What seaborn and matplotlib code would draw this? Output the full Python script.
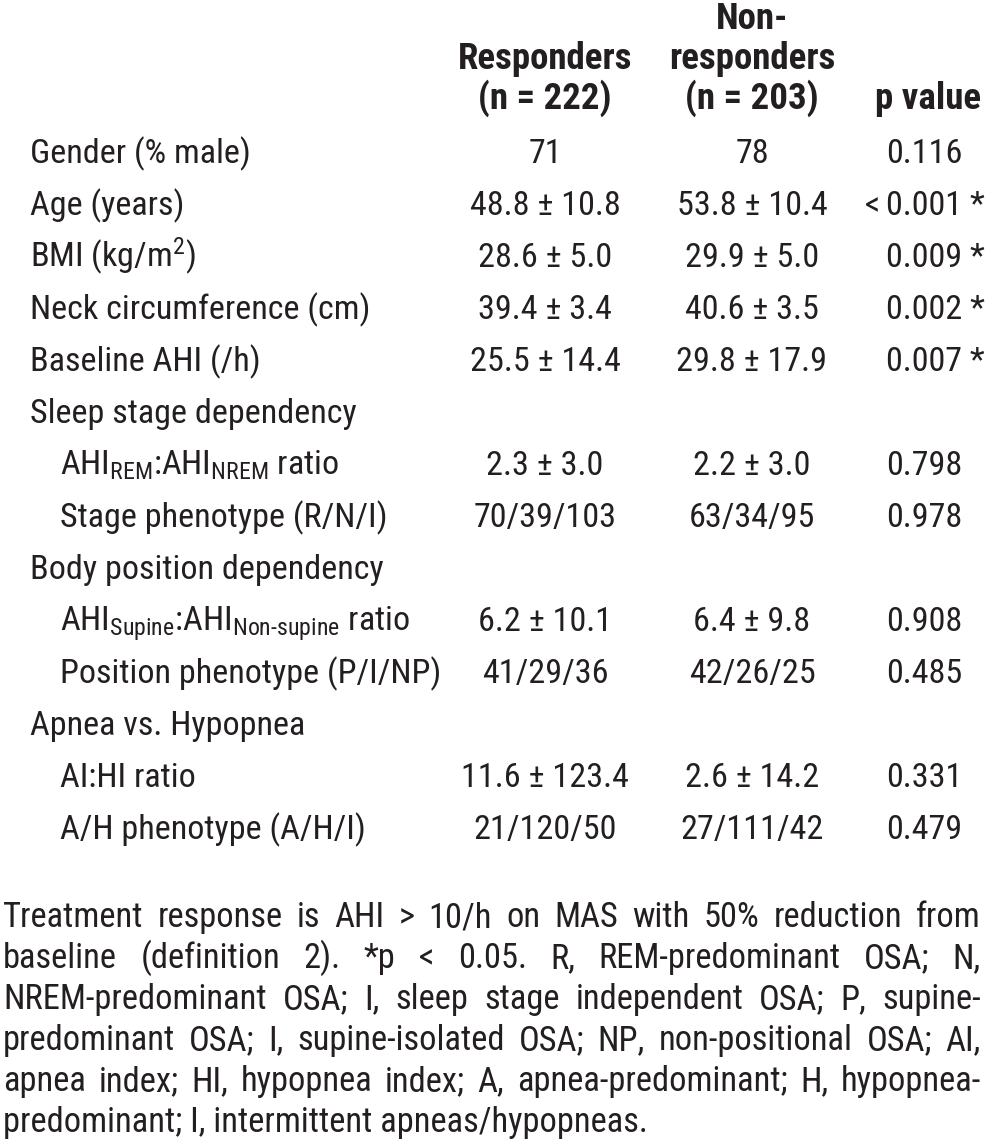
import matplotlib
matplotlib.use("Agg")
import matplotlib.pyplot as plt
from matplotlib import font_manager as fm
import seaborn as sns

# ---------------- data ----------------
header_resp = ["Responders", "(n = 222)"]
header_nonresp = ["Non-", "responders", "(n = 203)"]
header_p = "p value"

row_labels = [
    "Gender (% male)",
    "Age (years)",
    r"BMI (kg/m$^{\mathrm{2}}$)",
    "Neck circumference (cm)",
    "Baseline AHI (/h)",
    "Sleep stage dependency",
    r"AHI$_{\mathrm{REM}}$:AHI$_{\mathrm{NREM}}$ ratio",
    "Stage phenotype (R/N/I)",
    "Body position dependency",
    r"AHI$_{\mathrm{Supine}}$:AHI$_{\mathrm{Non\text{-}supine}}$ ratio",
    "Position phenotype (P/I/NP)",
    "Apnea vs. Hypopnea",
    "AI:HI ratio",
    "A/H phenotype (A/H/I)",
]
row_indent = [0, 0, 0, 0, 0, 0, 1, 1, 0, 1, 1, 0, 1, 1]
responders = ["71", "48.8 ± 10.8", "28.6 ± 5.0", "39.4 ± 3.4", "25.5 ± 14.4", "",
              "2.3 ± 3.0", "70/39/103", "", "6.2 ± 10.1", "41/29/36", "",
              "11.6 ± 123.4", "21/120/50"]
non_responders = ["78", "53.8 ± 10.4", "29.9 ± 5.0", "40.6 ± 3.5", "29.8 ± 17.9", "",
                  "2.2 ± 3.0", "63/34/95", "", "6.4 ± 9.8", "42/26/25", "",
                  "2.6 ± 14.2", "27/111/42"]
p_values = ["0.116", "< 0.001 *", "0.009 *", "0.002 *", "0.007 *", "",
            "0.798", "0.978", "", "0.908", "0.485", "",
            "0.331", "0.479"]

footnote_lines = [
    "Treatment response is AHI > 10/h on MAS with 50% reduction from",
    "baseline (definition 2). *p < 0.05. R, REM-predominant OSA; N,",
    "NREM-predominant OSA; I, sleep stage independent OSA; P, supine-",
    "predominant OSA; I, supine-isolated OSA; NP, non-positional OSA; AI,",
    "apnea index; HI, hypopnea index; A, apnea-predominant; H, hypopnea-",
    "predominant; I, intermittent apneas/hypopneas.",
]

# ---------------- fonts ----------------
sns.set_theme(style="white")


def _w(f):
    w = f.weight
    if isinstance(w, str):
        w = fm.weight_dict.get(w, 400)
    return int(w)


def pick(cands):
    for c in cands:
        ents = [f for f in fm.fontManager.ttflist if f.name == c and f.style == "normal"]
        if any(_w(f) >= 650 for f in ents) and any(350 <= _w(f) <= 450 for f in ents):
            return c
    return "DejaVu Sans"


NARROW = ["Liberation Sans Narrow", "Nimbus Sans Narrow", "Arial Narrow",
          "Roboto Condensed", "Archivo Narrow", "PT Sans Narrow",
          "Fira Sans Condensed", "Barlow Semi Condensed"]
FONT = pick(NARROW)
FONT_B = FONT
plt.rcParams["font.family"] = [FONT, "DejaVu Sans"]
plt.rcParams["mathtext.fontset"] = "custom"
plt.rcParams["mathtext.rm"] = FONT
plt.rcParams["mathtext.it"] = FONT
plt.rcParams["mathtext.bf"] = FONT
COLOR = "#231f20"

fig = plt.figure(figsize=(9.89, 11.44), dpi=100)
ax = fig.add_axes([0, 0, 1, 1])
ax.set_xlim(0, 989)
ax.set_ylim(1144, 0)
ax.axis("off")
fig.canvas.draw()
renderer = fig.canvas.get_renderer()


def width_of(s, size, family, weight="normal"):
    t = ax.text(0, 0, s, fontsize=size, family=[family, "DejaVu Sans"], fontweight=weight)
    w = t.get_window_extent(renderer).width
    t.remove()
    return w


# calibrate sizes so that text widths match the reference
FS = 25 * 340.0 / width_of("Neck circumference (cm)", 25, FONT)
FS_B = 25 * 175.0 / width_of("Responders", 25, FONT_B, "bold")
FS_F = 25 * 647.0 / width_of(footnote_lines[-1], 25, FONT)
FS = min(max(FS, 20), 32)
FS_B = min(max(FS_B, 20), 32)
FS_F = min(max(FS_F, 20), 32)

X_LABEL, X_INDENT = 30, 60
X_RESP, X_NONRESP = 545, 752
X_P, X_PEND = 886, 981


def T(x, y, s, ha="left", bold=False, size=None):
    return ax.text(x, y, s, ha=ha, va="baseline",
                   fontsize=size or (FS_B if bold else FS),
                   family=[FONT_B if bold else FONT, "DejaVu Sans"],
                   fontweight="bold" if bold else "normal", color=COLOR)


# header
hdr_base = [29, 69, 109]
for i, t in enumerate(header_resp):
    T(X_RESP, hdr_base[i + 1], t, ha="center", bold=True)
for i, t in enumerate(header_nonresp):
    T(X_NONRESP, hdr_base[i], t, ha="center", bold=True)
T(X_PEND, hdr_base[2], header_p, ha="right", bold=True)

# rows
for i, lab in enumerate(row_labels):
    yb = 163 + 52 * i
    T(X_INDENT if row_indent[i] else X_LABEL, yb, lab)
    if responders[i]:
        T(X_RESP, yb, responders[i], ha="center")
    if non_responders[i]:
        T(X_NONRESP, yb, non_responders[i], ha="center")
    pv = p_values[i]
    if pv:
        if pv.startswith("<"):
            T(X_P - 6, yb, "<", ha="right")
            pv = pv[1:].strip()
        T(X_P, yb, pv)

# justified footnote
LEFT, RIGHT = 3, 981
for j, line in enumerate(footnote_lines):
    yb = 927 + 41 * j
    if j == len(footnote_lines) - 1:
        T(LEFT, yb, line, size=FS_F)
        continue
    words = line.split(" ")
    texts = [T(0, yb, w, size=FS_F) for w in words]
    widths = [t.get_window_extent(renderer).width for t in texts]
    gap = (RIGHT - LEFT - sum(widths)) / (len(words) - 1)
    x = LEFT
    for t, w in zip(texts, widths):
        t.set_x(x)
        x += w + gap

fig.savefig("out.png", dpi=100)
